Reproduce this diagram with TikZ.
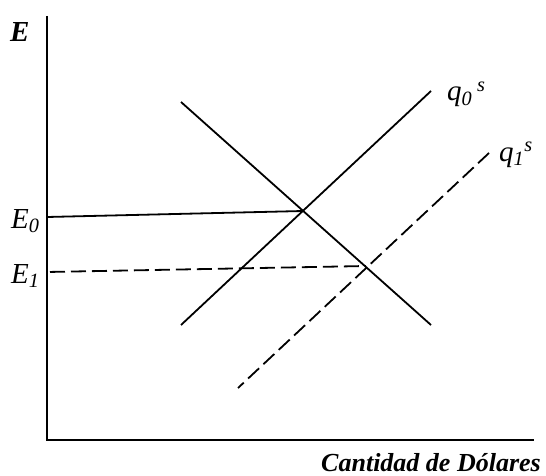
\documentclass[tikz,border=0pt]{standalone}
\usepackage{fontspec}
\setmainfont{Liberation Serif}
\begin{document}
\begin{tikzpicture}[x=1pt,y=-1pt,
  axis/.style={line width=2pt},
  curve/.style={line width=1.8pt},
  dashcurve/.style={line width=1.8pt, dash pattern=on 15pt off 6pt},
  lbl/.style={inner sep=0pt, font=\fontsize{29}{29}\selectfont\itshape}]
\useasboundingbox (0,0) rectangle (546,476);
% axes
\coordinate (top) at (47,16);
\coordinate (orig) at (47,440);
\coordinate (xend) at (534,440);
\draw[axis] (top) -- (orig) -- (xend);
% demand
\coordinate (d1) at (181,102);
\coordinate (d2) at (431,325);
\draw[curve] (d1) -- (d2);
% q0 supply
\coordinate (s1) at (181,325);
\coordinate (s2) at (431,91);
\draw[curve] (s1) -- (s2);
% q1 supply
\coordinate (t1) at (489,153);
\coordinate (t2) at (238,388);
\draw[dashcurve] (t1) -- (t2);
% equilibria
\coordinate (eq0) at (303,211);
\coordinate (eq1) at (366,266);
\coordinate (e0a) at (47,217);
\coordinate (e1a) at (47,272);
\draw[curve] (e0a) -- (eq0);
\draw[dashcurve, dash phase=-3pt] (e1a) -- (eq1);
% labels
\node[lbl, font=\fontsize{29}{29}\selectfont\bfseries\itshape, anchor=base west] (lE) at (10,42) {E};
\node[lbl, anchor=base west] (lE0) at (11,228) {E\textsubscript{0}};
\node[lbl, anchor=base west] (lE1) at (11,283) {E\textsubscript{1}};
\node[lbl, anchor=base west] (lq0) at (447,101) {q\textsubscript{0}\,\textsuperscript{s}};
\node[lbl, anchor=base west] (lq1) at (499,161) {q\textsubscript{1}\textsuperscript{s}};
\node[lbl, font=\fontsize{26}{26}\selectfont\bfseries\itshape, anchor=base east] (lx) at (541,471) {Cantidad de Dólares};
\end{tikzpicture}
\end{document}
